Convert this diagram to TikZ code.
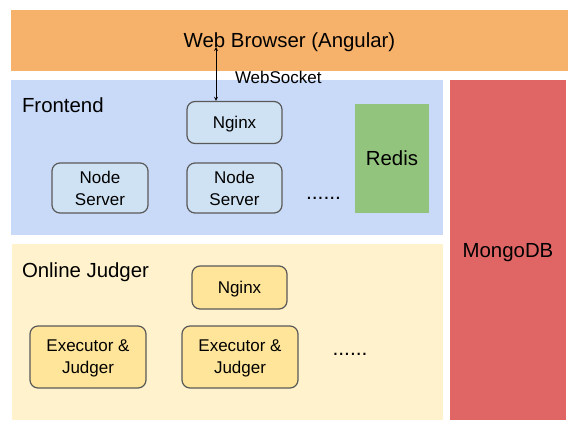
\documentclass[tikz,border=0pt]{standalone}
\usepackage{fontspec}
\setmainfont{Liberation Sans}
\usepackage{tikz}

\definecolor{browsercol}{HTML}{F6B26B}
\definecolor{frontcol}{HTML}{C9DAF8}
\definecolor{frontbox}{HTML}{CFE2F3}
\definecolor{judgecol}{HTML}{FFF2CC}
\definecolor{judgebox}{HTML}{FFE599}
\definecolor{rediscol}{HTML}{93C47D}
\definecolor{mongocol}{HTML}{E06666}
\definecolor{edgecol}{HTML}{595959}

\newcommand{\bigtxt}{\fontsize{20.4}{23}\selectfont}
\newcommand{\boxtxt}{\fontsize{17}{22}\selectfont}
\newcommand{\dottxt}{\fontsize{21}{22}\selectfont}

\tikzset{
  region/.style={inner sep=0pt, outer sep=0pt, text depth=0pt, font=\bigtxt},
  service/.style={draw=edgecol, line width=1.2pt, rounded corners=8pt,
    align=center, inner sep=0pt, text depth=0pt, font=\boxtxt},
}

\begin{document}
\begin{tikzpicture}[x=1pt,y=-1pt]
	\useasboundingbox (0,0) rectangle (575,429);

	\node[region,fill=browsercol,minimum width=557,minimum height=61] (browser) at (289.5, 40.5)   {Web Browser (Angular)};
	\node[region,fill=frontcol,minimum width=432,minimum height=155]  (frontend) at (227, 157.5)  {};
	\node[region,fill=judgecol,minimum width=431,minimum height=176]  (judger) at (227.5, 332)     {};
	\node[region,fill=mongocol,minimum width=116,minimum height=340]  (mongo) at (508, 250)       {MongoDB};

	\node[region,anchor=west] (frontlbl) at (22, 105.5)   {Frontend};
	\node[region,anchor=west] (judgelbl) at (22, 270)     {Online Judger};

	\node[service,fill=frontbox,minimum width=95,minimum height=42]  (nginxfe) at (234.5, 122.5) {Nginx};
	\node[service,fill=frontbox,minimum width=96,minimum height=50]  (node1) at (100, 188)       {Node\\Server};
	\node[service,fill=frontbox,minimum width=95,minimum height=50]  (node2) at (234.5, 188)     {Node\\Server};
	\node[region,font=\dottxt] (moref) at (323.5, 198)  {......};
	\node[region,fill=rediscol,minimum width=74,minimum height=109] (redis) at (392, 158.5)     {Redis};

	\node[service,fill=judgebox,minimum width=95,minimum height=43]  (nginxoj) at (239.5, 287.5) {Nginx};
	\node[service,fill=judgebox,minimum width=116,minimum height=62] (exec1) at (88, 357)        {Executor \&\\Judger};
	\node[service,fill=judgebox,minimum width=116,minimum height=62] (exec2) at (240, 357)       {Executor \&\\Judger};
	\node[region,font=\dottxt] (morej) at (350, 354)  {......};

	\coordinate (ws) at (216, 47);
	\draw[<->, >=stealth, line width=0.8pt] (ws) -- (nginxfe.north -| ws);
	\node[region,font=\boxtxt,anchor=west] (wslbl) at (235, 77) {WebSocket};

\end{tikzpicture}
\end{document}
